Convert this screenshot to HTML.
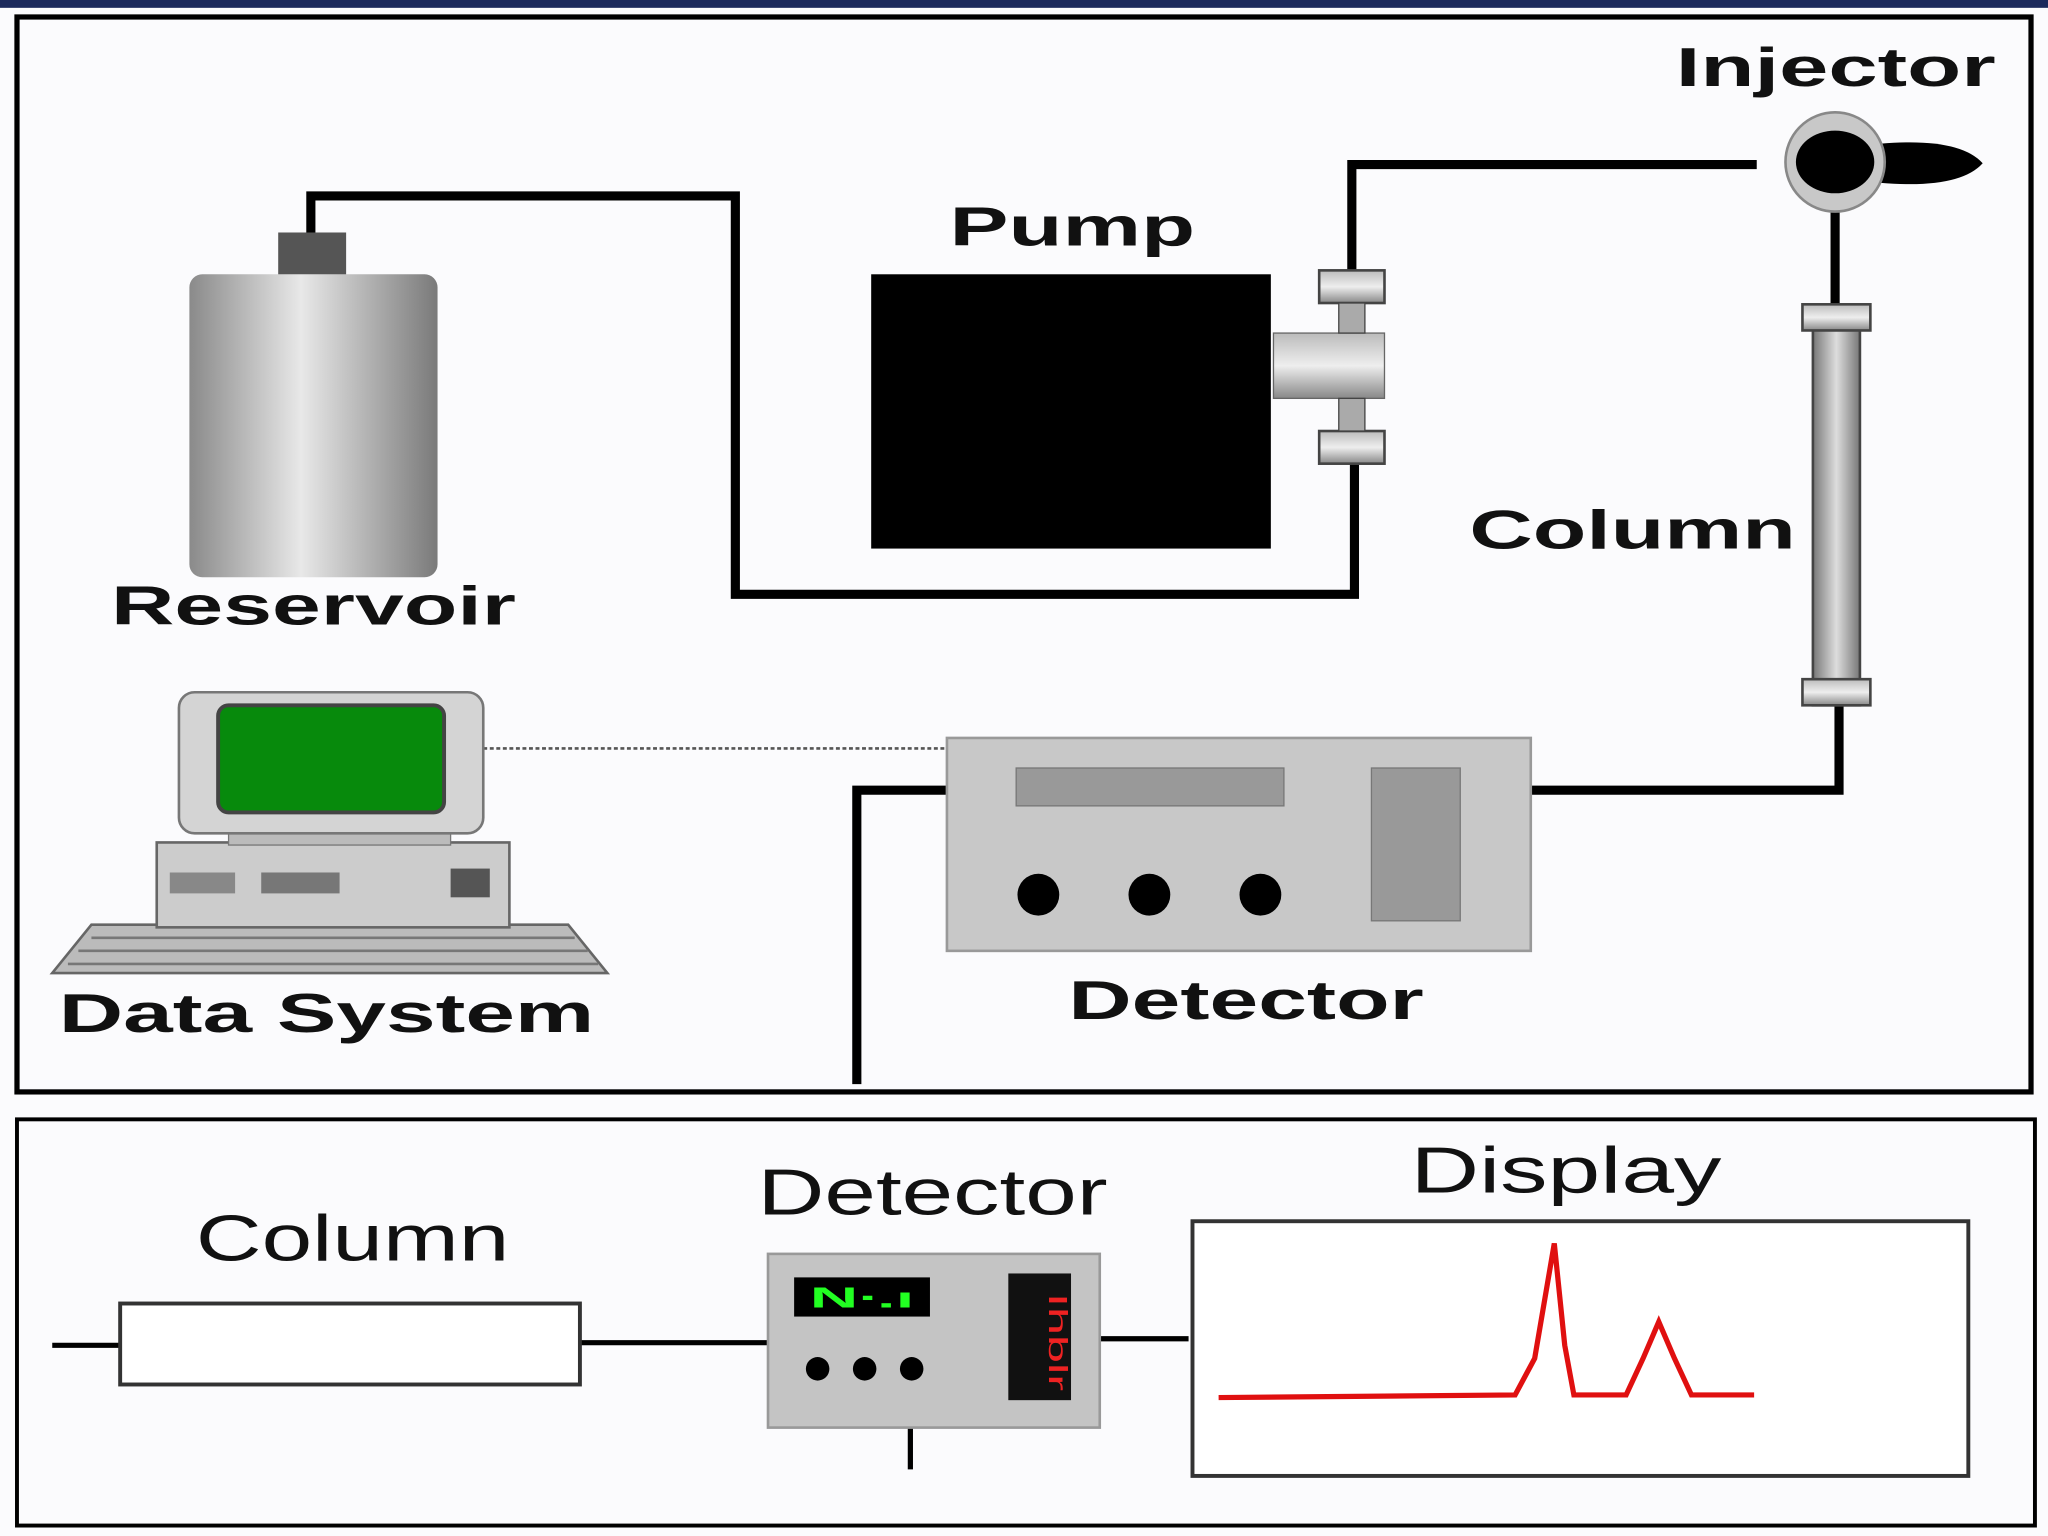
<!DOCTYPE html>
<html><head><meta charset="utf-8"><style>
html,body{margin:0;padding:0;background:#fff;}
svg{display:block;}
text{font-family:"Liberation Sans",Arial,sans-serif;}
</style></head><body>
<svg width="2048" height="1536" viewBox="0 0 1568 1176" xmlns="http://www.w3.org/2000/svg">
<defs>
<linearGradient id="cyl" x1="0" x2="1" y1="0" y2="0">
<stop offset="0" stop-color="#8a8a8a"/><stop offset="0.45" stop-color="#e8e8e8"/><stop offset="1" stop-color="#7a7a7a"/>
</linearGradient>
<linearGradient id="col" x1="0" x2="1" y1="0" y2="0">
<stop offset="0" stop-color="#777"/><stop offset="0.5" stop-color="#ddd"/><stop offset="1" stop-color="#777"/>
</linearGradient>
<linearGradient id="head" x1="0" x2="0" y1="0" y2="1">
<stop offset="0" stop-color="#bbb"/><stop offset="0.5" stop-color="#eee"/><stop offset="1" stop-color="#888"/>
</linearGradient>
</defs>
<rect width="1568" height="1176" fill="#fbfbfd"/>
<rect x="0" y="0" width="1568" height="6" fill="#1c2a5c"/>
<rect x="13" y="13" width="1542" height="823" fill="#fbfbfd" stroke="#000" stroke-width="4"/>
<rect x="13" y="857" width="1545" height="311" fill="#fbfbfd" stroke="#000" stroke-width="3"/>

<!-- tubing -->
<g fill="none" stroke="#000" stroke-width="7">
<polyline points="238,180 238,150 563,150 563,455 1037,455 1037,355"/>
<polyline points="1035,210 1035,126 1345,126"/>
<polyline points="1405,160 1405,238"/>
<polyline points="1408,538 1408,605 1172,605"/>
<polyline points="725,605 656,605 656,830"/>
</g>
<line x1="370" y1="573" x2="725" y2="573" stroke="#555" stroke-width="2" stroke-dasharray="3,2"/>

<!-- reservoir -->
<rect x="213" y="178" width="52" height="34" fill="#555"/>
<rect x="145" y="210" width="190" height="232" rx="10" fill="url(#cyl)"/>

<!-- pump -->
<rect x="667" y="210" width="306" height="210" fill="#000"/>
<rect x="975" y="255" width="85" height="50" fill="url(#head)" stroke="#666"/>
<rect x="1010" y="207" width="50" height="25" fill="url(#head)" stroke="#444" stroke-width="2"/>
<rect x="1010" y="330" width="50" height="25" fill="url(#head)" stroke="#444" stroke-width="2"/>
<rect x="1025" y="232" width="20" height="23" fill="#aaa" stroke="#444"/>
<rect x="1025" y="305" width="20" height="25" fill="#aaa" stroke="#444"/>

<!-- injector -->
<path d="M1440,110 Q1500,105 1518,125 Q1500,145 1440,140 Z" fill="#000"/>
<circle cx="1405" cy="124" r="38" fill="#c8c8c8" stroke="#888" stroke-width="2"/>
<ellipse cx="1405" cy="124" rx="30" ry="24" fill="#000"/>

<!-- column -->
<rect x="1388" y="240" width="36" height="300" fill="url(#col)" stroke="#444" stroke-width="2"/>
<rect x="1380" y="233" width="52" height="20" fill="url(#head)" stroke="#444" stroke-width="2"/>
<rect x="1380" y="520" width="52" height="20" fill="url(#head)" stroke="#444" stroke-width="2"/>

<!-- detector top -->
<rect x="725" y="565" width="447" height="163" fill="#c8c8c8" stroke="#999" stroke-width="2"/>
<rect x="778" y="588" width="205" height="29" fill="#999" stroke="#777"/>
<rect x="1050" y="588" width="68" height="117" fill="#999" stroke="#777"/>
<circle cx="795" cy="685" r="16" fill="#000"/>
<circle cx="880" cy="685" r="16" fill="#000"/>
<circle cx="965" cy="685" r="16" fill="#000"/>

<!-- computer -->
<path d="M40,745 L70,708 L435,708 L465,745 Z" fill="#bbb" stroke="#666" stroke-width="2"/>
<g stroke="#777" stroke-width="2"><line x1="70" y1="718" x2="440" y2="718"/><line x1="60" y1="728" x2="450" y2="728"/><line x1="52" y1="738" x2="458" y2="738"/></g>
<rect x="120" y="645" width="270" height="65" fill="#ccc" stroke="#666" stroke-width="2"/>
<rect x="130" y="668" width="50" height="16" fill="#888"/><rect x="200" y="668" width="60" height="16" fill="#777"/><rect x="345" y="665" width="30" height="22" fill="#555"/>
<rect x="175" y="632" width="170" height="15" fill="#bbb" stroke="#777"/>
<rect x="137" y="530" width="233" height="108" rx="12" fill="#d4d4d4" stroke="#777" stroke-width="2"/>
<rect x="167" y="540" width="173" height="82" rx="8" fill="#078a0c" stroke="#444" stroke-width="3"/>

<!-- top labels -->
<g font-weight="bold" font-size="42" fill="#111">
<text x="1283" y="66" textLength="245" lengthAdjust="spacingAndGlyphs">Injector</text>
<text x="727" y="188" textLength="188" lengthAdjust="spacingAndGlyphs">Pump</text>
<text x="85" y="478" textLength="310" lengthAdjust="spacingAndGlyphs">Reservoir</text>
<text x="1125" y="420" textLength="250" lengthAdjust="spacingAndGlyphs">Column</text>
<text x="45" y="790" textLength="410" lengthAdjust="spacingAndGlyphs">Data System</text>
<text x="818" y="780" textLength="272" lengthAdjust="spacingAndGlyphs">Detector</text>
</g>

<!-- bottom -->
<g stroke="#000" stroke-width="4" fill="none">
<line x1="40" y1="1030" x2="92" y2="1030"/>
<line x1="444" y1="1028" x2="588" y2="1028"/>
<line x1="842" y1="1025" x2="910" y2="1025"/>
<line x1="697" y1="1093" x2="697" y2="1125"/>
</g>
<rect x="92" y="998" width="352" height="62" fill="#fff" stroke="#333" stroke-width="3"/>
<rect x="588" y="960" width="254" height="133" fill="#c4c4c4" stroke="#999" stroke-width="2"/>
<rect x="608" y="978" width="104" height="30" fill="#000"/>
<text x="620" y="1001" font-size="22" font-weight="bold" fill="#2f2" textLength="80" lengthAdjust="spacingAndGlyphs">N∙.ı</text>
<rect x="772" y="975" width="48" height="97" fill="#111"/>
<text x="803" y="990" font-size="20" fill="#e22" transform="rotate(90 803 990)" textLength="75" lengthAdjust="spacingAndGlyphs">Ihblr</text>
<circle cx="626" cy="1048" r="9" fill="#000"/><circle cx="662" cy="1048" r="9" fill="#000"/><circle cx="698" cy="1048" r="9" fill="#000"/>
<rect x="913" y="935" width="594" height="195" fill="#fff" stroke="#333" stroke-width="3"/>
<polyline points="933,1070 1160,1068 1175,1040 1190,952 1198,1030 1205,1068 1245,1068 1258,1040 1270,1012 1282,1040 1295,1068 1343,1068" fill="none" stroke="#e01010" stroke-width="4"/>
<g font-size="50" fill="#111">
<text x="150" y="965" textLength="240" lengthAdjust="spacingAndGlyphs">Column</text>
<text x="580" y="930" textLength="268" lengthAdjust="spacingAndGlyphs">Detector</text>
<text x="1080" y="913" textLength="238" lengthAdjust="spacingAndGlyphs">Display</text>
</g>
</svg>
</body></html>
